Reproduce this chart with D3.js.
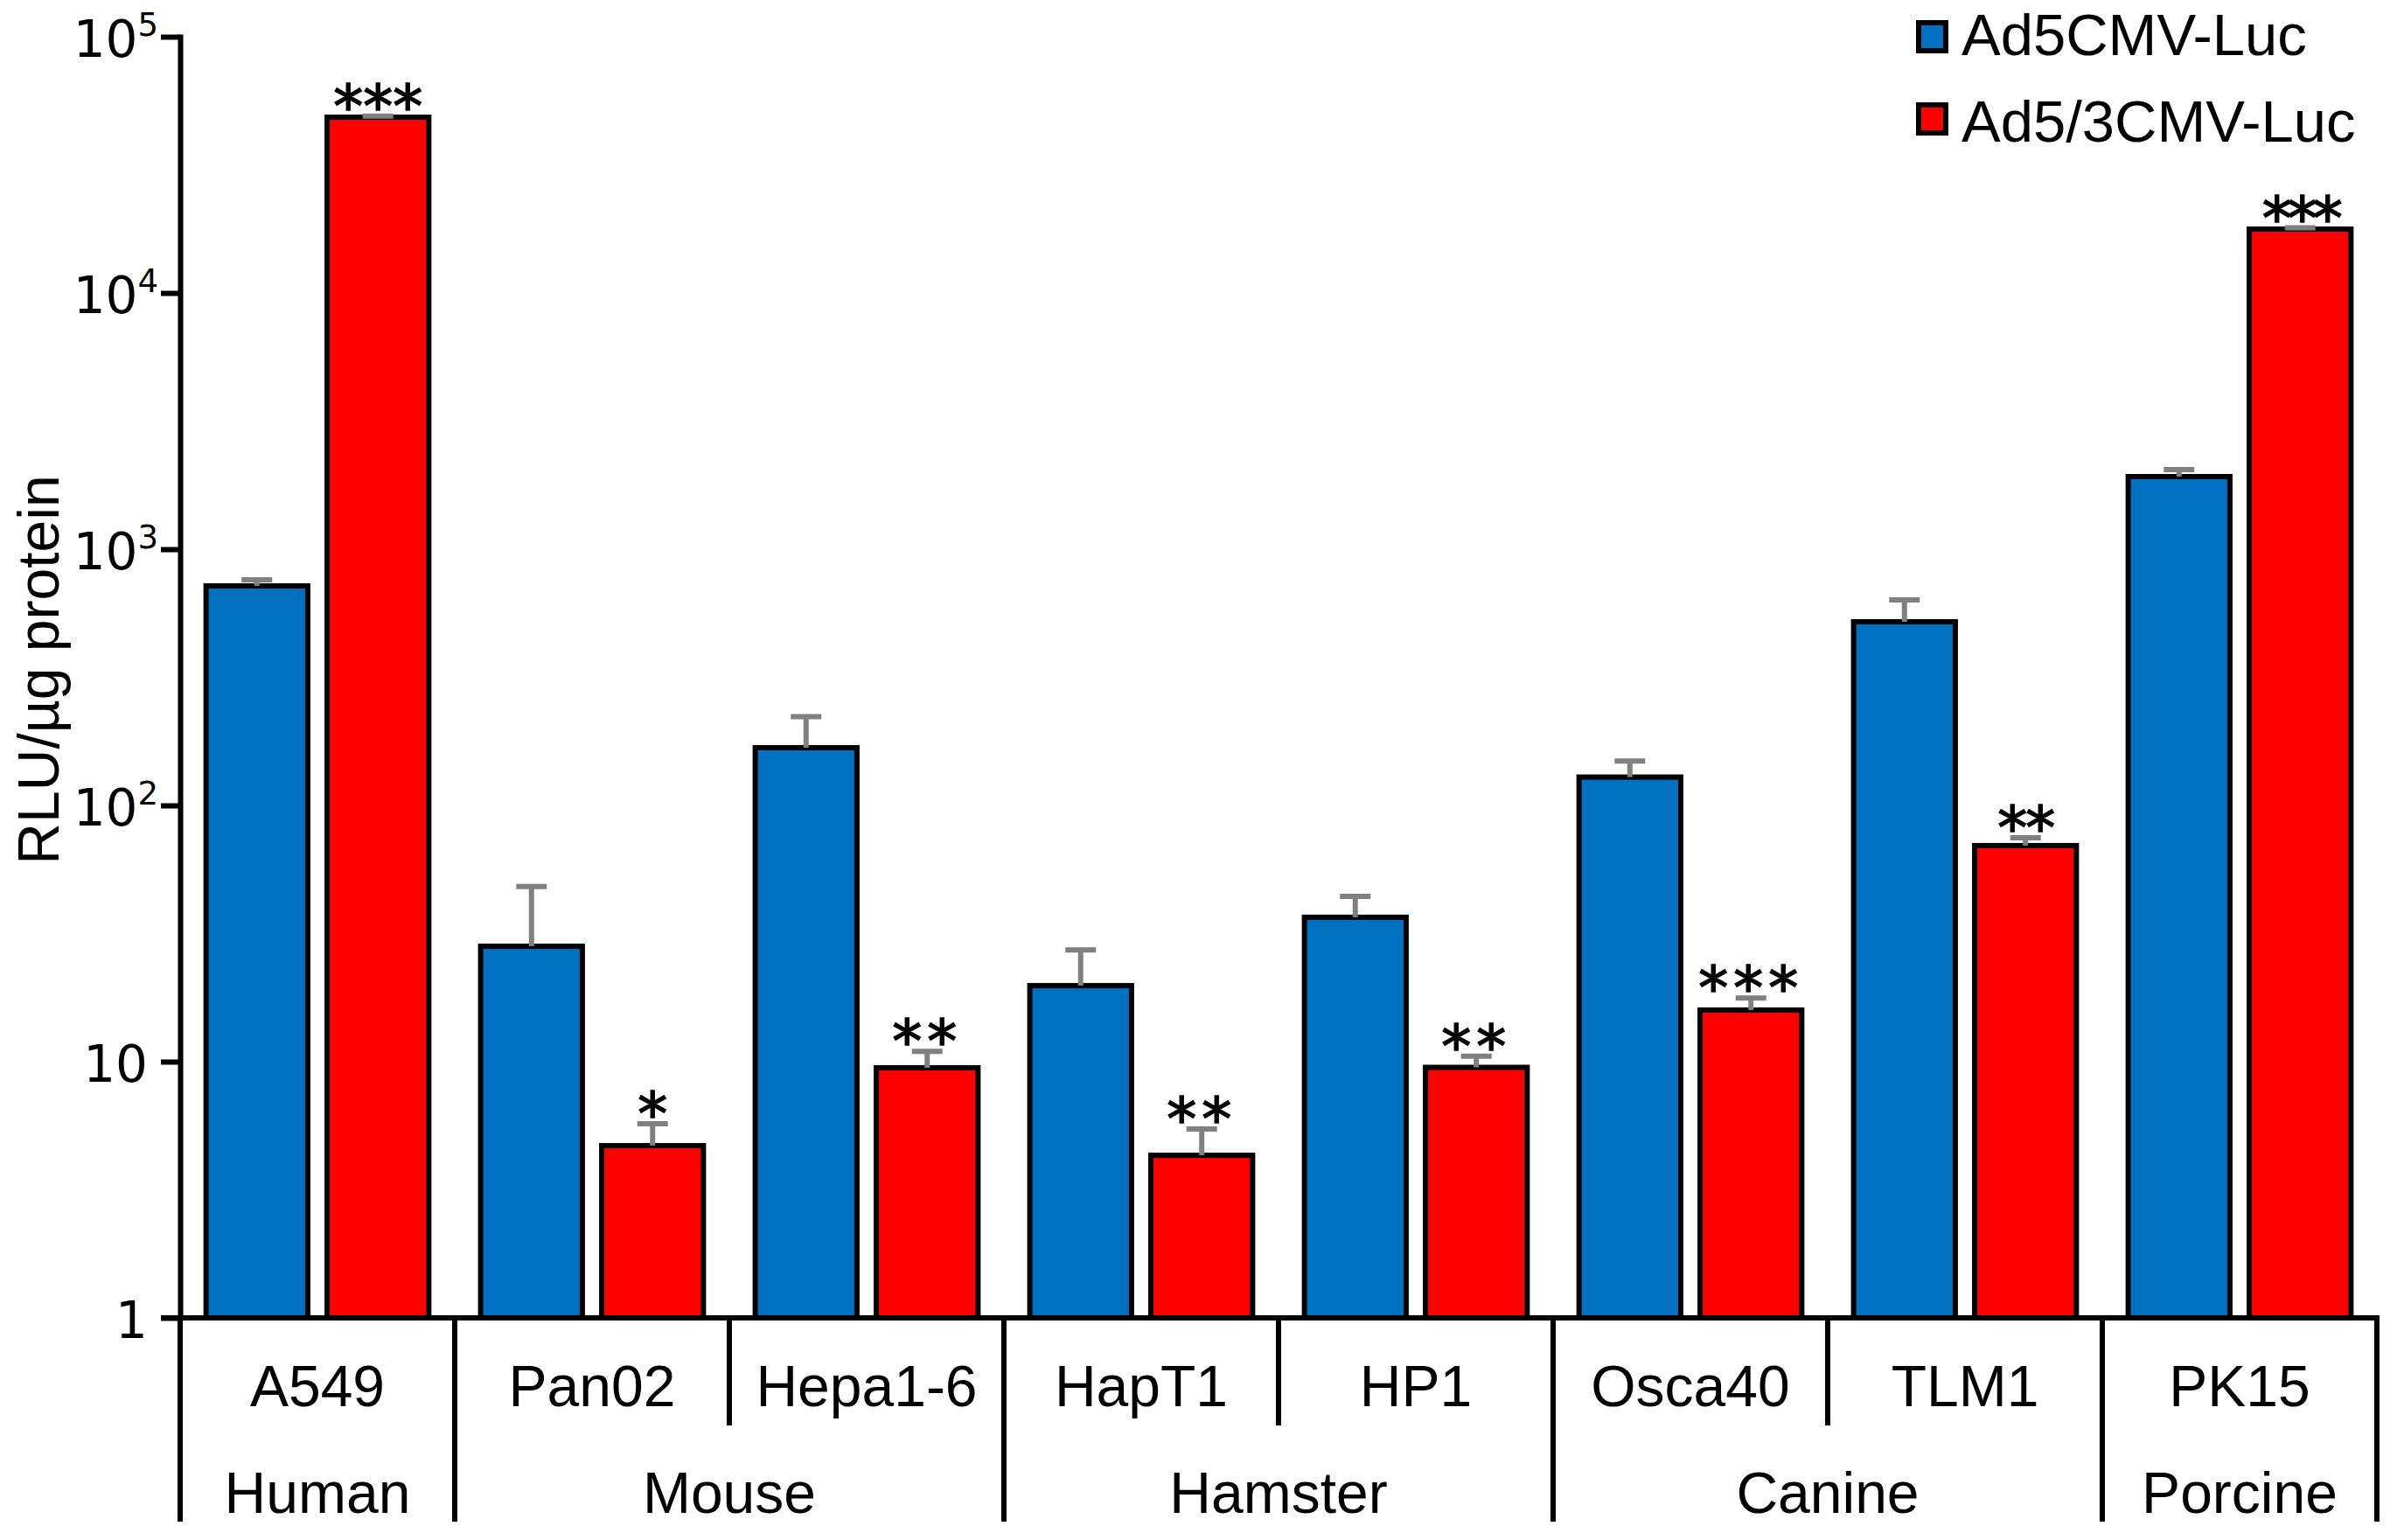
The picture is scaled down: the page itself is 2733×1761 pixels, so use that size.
<!DOCTYPE html>
<html>
<head>
<meta charset="utf-8">
<script src="https://cdn.jsdelivr.net/npm/d3@7"></script>
<style>
  body { margin: 0; background: #fff; }
  svg { display: block; }
</style>
</head>
<body>
<div id="chart"></div>
<script>
// values (RLU/ug protein, log scale)
const cellLines = ["A549", "Pan02", "Hepa1-6", "HapT1", "HP1", "Osca40", "TLM1", "PK15"];
const species = ["Human", "Mouse", "Mouse", "Hamster", "Hamster", "Canine", "Canine", "Porcine"];
const seriesNames = ["Ad5CMV-Luc", "Ad5/3CMV-Luc"];
const ad5Mean = [719, 28.2, 168, 19.8, 36.6, 129, 521, 1920];
const ad5Err = [41, 20, 54, 7.5, 7.6, 20, 113, 125];
const ad53Mean = [48500, 4.7, 9.46, 4.31, 9.5, 15.9, 69.7, 17750];
const ad53Err = [500, 1.02, 1.5, 1.15, 1.0, 1.8, 5.1, 200];
const significance = ["***", "*", "**", "**", "**", "***", "**", "***"];
const yTicks = [1, 10, 100, 1000, 10000, 100000];

const COLORS = { "Ad5CMV-Luc": "#0070C0", "Ad5/3CMV-Luc": "#FF0000" };
const SIG_SPACING = { A549: 0, Pan02: 0, "Hepa1-6": 6, HapT1: 6, HP1: 6, Osca40: 6, TLM1: -2, PK15: -5 };
const W = 2733, H = 1761;
const AXIS = { LEFT: 206, RIGHT: 2718, TOP: 42, BOTTOM: 1507 };
const LINE_W = 6;
const SANS = "'Liberation Sans', Arial, sans-serif";
const NUM_FONT = "'DejaVu Sans', sans-serif";

const svg = d3
  .select("#chart")
  .append("svg")
  .attr("width", W)
  .attr("height", H)
  .style("background", "white");

const x0 = d3.scaleBand().domain(cellLines).range([AXIS.LEFT, AXIS.RIGHT]).padding(0);
const x1 = d3
  .scaleBand()
  .domain(seriesNames)
  .range([0, x0.bandwidth()])
  .paddingInner(0.16)
  .paddingOuter(0.214);
const y = d3.scaleLog().domain([1, 1e5]).range([AXIS.BOTTOM, AXIS.TOP]);

const rows = cellLines.map((c, i) => ({
  cell: c,
  values: [
    { s: seriesNames[0], v: ad5Mean[i], e: ad5Err[i] },
    { s: seriesNames[1], v: ad53Mean[i], e: ad53Err[i], sig: significance[i] },
  ],
}));

// bars
const groups = svg
  .selectAll(".cell")
  .data(rows)
  .enter()
  .append("g")
  .attr("class", "cell")
  .attr("transform", (d) => `translate(${x0(d.cell)},0)`);

groups
  .selectAll("rect")
  .data((d) => d.values)
  .enter()
  .append("rect")
  .attr("x", (d) => x1(d.s))
  .attr("y", (d) => y(d.v))
  .attr("width", x1.bandwidth())
  .attr("height", (d) => y(1) - y(d.v))
  .attr("fill", (d) => COLORS[d.s])
  .attr("stroke", "#000")
  .attr("stroke-width", LINE_W);

// error bars (upper only)
const errs = groups
  .selectAll(".err")
  .data((d) => d.values)
  .enter()
  .append("g")
  .attr("class", "err")
  .attr("stroke", "#808080")
  .attr("stroke-width", LINE_W);

errs
  .append("line")
  .attr("x1", (d) => x1(d.s) + x1.bandwidth() / 2)
  .attr("x2", (d) => x1(d.s) + x1.bandwidth() / 2)
  .attr("y1", (d) => y(d.v))
  .attr("y2", (d) => y(d.v + d.e));

errs
  .append("line")
  .attr("x1", (d) => x1(d.s) + x1.bandwidth() / 2 - 17.5)
  .attr("x2", (d) => x1(d.s) + x1.bandwidth() / 2 + 17.5)
  .attr("y1", (d) => y(d.v + d.e))
  .attr("y2", (d) => y(d.v + d.e));

// significance stars
groups
  .selectAll(".sig")
  .data((d) => d.values.filter((v) => v.sig).map((v) => ({ ...v, cell: d.cell })))
  .enter()
  .append("text")
  .attr("class", "sig")
  .attr("x", (d) => x1(d.s) + x1.bandwidth() / 2)
  .attr("y", (d) => y(d.v + d.e) + 12)
  .attr("text-anchor", "middle")
  .attr("font-family", NUM_FONT)
  .attr("font-size", 68)
  .attr("stroke", "#000")
  .attr("stroke-width", 1.6)
  .attr("letter-spacing", (d) => SIG_SPACING[d.cell])
  .text((d) => d.sig);

// y axis
const yAxis = d3.axisLeft(y).tickValues(yTicks).tickSize(22).tickSizeOuter(0).tickFormat("");
const gy = svg.append("g").attr("transform", `translate(${AXIS.LEFT},0)`).call(yAxis);
gy.select(".domain").attr("stroke-width", LINE_W).attr("stroke-linecap", "square");
gy.selectAll(".tick line").attr("stroke-width", LINE_W);
gy.selectAll(".tick").each(function (d) {
  const p = Math.round(Math.log10(d));
  const t = d3
    .select(this)
    .append("text")
    .attr("y", 22)
    .attr("fill", "#000")
    .attr("text-anchor", "end")
    .attr("font-family", NUM_FONT)
    .attr("font-size", 58);
  if (p < 2) {
    t.attr("x", -37).text(d);
  } else {
    t.attr("x", -25);
    t.append("tspan").text("10");
    t.append("tspan").attr("dy", -24).attr("font-size", 37).text(p);
  }
});

svg
  .append("text")
  .attr("transform", `translate(67,766) rotate(-90)`)
  .attr("text-anchor", "middle")
  .attr("font-family", SANS)
  .attr("font-size", 66)
  .text("RLU/\u00b5g protein");

// x axis line and category table below it
svg
  .append("line")
  .attr("x1", AXIS.LEFT - 22)
  .attr("x2", AXIS.RIGHT + 3)
  .attr("y1", y(1))
  .attr("y2", y(1))
  .attr("stroke", "#000")
  .attr("stroke-width", LINE_W);

const bounds = cellLines.map((c, i) => ({
  x: x0(c),
  long: i === 0 || species[i] !== species[i - 1],
}));
bounds.push({ x: x0.range()[1], long: true });

svg
  .selectAll(".divider")
  .data(bounds)
  .enter()
  .append("line")
  .attr("class", "divider")
  .attr("x1", (d) => d.x)
  .attr("x2", (d) => d.x)
  .attr("y1", y(1))
  .attr("y2", (d) => (d.long ? 1740 : 1630))
  .attr("stroke", "#000")
  .attr("stroke-width", LINE_W);

svg
  .selectAll(".cell-label")
  .data(cellLines)
  .enter()
  .append("text")
  .attr("class", "cell-label")
  .attr("x", (d) => x0(d) + x0.bandwidth() / 2)
  .attr("y", 1608)
  .attr("text-anchor", "middle")
  .attr("font-family", SANS)
  .attr("font-size", 66)
  .text((d) => d);

// runs of the same species
const speciesGroups = [];
species.forEach((s, i) => {
  const last = speciesGroups[speciesGroups.length - 1];
  if (last && last.name === s) last.end = cellLines[i];
  else speciesGroups.push({ name: s, start: cellLines[i], end: cellLines[i] });
});

svg
  .selectAll(".species-label")
  .data(speciesGroups)
  .enter()
  .append("text")
  .attr("class", "species-label")
  .attr("x", (d) => (x0(d.start) + x0(d.end) + x0.bandwidth()) / 2)
  .attr("y", 1730)
  .attr("text-anchor", "middle")
  .attr("font-family", SANS)
  .attr("font-size", 66)
  .text((d) => d.name);

// legend
const legend = svg
  .selectAll(".legend")
  .data(seriesNames)
  .enter()
  .append("g")
  .attr("class", "legend");

legend
  .append("rect")
  .attr("x", 2194)
  .attr("y", (d, i) => 26 + i * 94)
  .attr("width", 31)
  .attr("height", 32)
  .attr("fill", (d) => COLORS[d])
  .attr("stroke", "#000")
  .attr("stroke-width", LINE_W);

legend
  .append("text")
  .attr("x", 2243)
  .attr("y", (d, i) => 63 + i * 99)
  .attr("font-family", SANS)
  .attr("font-size", 67)
  .text((d) => d);
</script>
</body>
</html>
